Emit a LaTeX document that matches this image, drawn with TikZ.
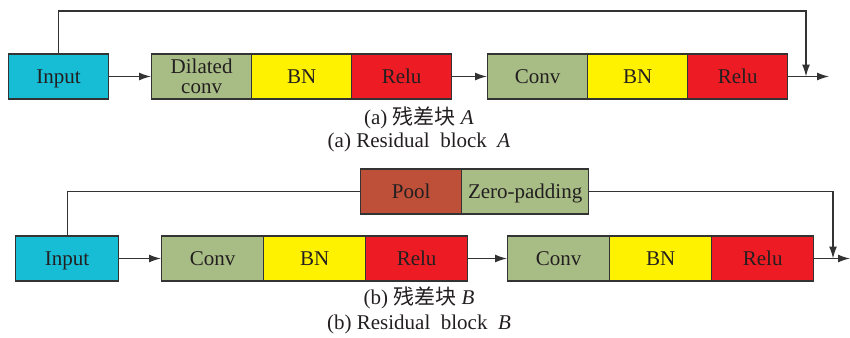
\documentclass[tikz,border=0pt]{standalone}
\usepackage{fontspec}
\setmainfont{Liberation Serif}
\newfontfamily\cjk{Noto Sans CJK SC}
\usetikzlibrary{arrows.meta}
\definecolor{inblue}{HTML}{16BDD5}
\definecolor{convgreen}{HTML}{A8BD85}
\definecolor{bnyellow}{HTML}{FFF200}
\definecolor{relured}{HTML}{ED1C24}
\definecolor{poolbrown}{HTML}{BE5039}
\definecolor{edge}{HTML}{333333}
\definecolor{ink}{HTML}{231F20}
\tikzset{
  blkbase/.style={draw=edge, line width=1.3pt, minimum height=45pt, inner sep=0pt,
    anchor=west, text=ink, font=\fontsize{21}{20}\selectfont, align=center},
  blk/.style={blkbase, text height=14.5pt, text depth=0pt},
  conn/.style={draw=edge, line width=1.3pt},
  arr/.style={conn, -{Latex[length=12pt,width=8pt]}},
  captext/.style={text=ink, font=\fontsize{21}{24}\selectfont}
}
\begin{document}
\begin{tikzpicture}[x=1pt,y=-1pt]
\useasboundingbox (0,0) rectangle (850,337);
% ---- residual block A ----
\node[blk, fill=inblue, minimum width=100pt] (ain) at (8,76.5) {Input};
\node[blkbase, fill=convgreen, minimum width=100pt] (adc) at (151,76.5) {Dilated\\conv};
\node[blk, fill=bnyellow, minimum width=100pt] (abn1) at (251,76.5) {BN};
\node[blk, fill=relured, minimum width=100pt] (arl1) at (351,76.5) {Relu};
\node[blk, fill=convgreen, minimum width=100pt] (acv) at (487,76.5) {Conv};
\node[blk, fill=bnyellow, minimum width=100pt] (abn2) at (587,76.5) {BN};
\node[blk, fill=relured, minimum width=100pt] (arl2) at (687,76.5) {Relu};
\coordinate (aout) at (829,76.5);
\coordinate (ajoin) at (806,76.5);
\coordinate (atop) at (806,11);
\draw[arr] (ain) -- (adc);
\draw[arr] (arl1) -- (acv);
\draw[arr] (arl2) -- (aout);
\draw[arr] (ain.north) |- (atop) -- (ajoin);
\node[captext] (capa1) at (419,118) {(a) {\cjk 残差块}\ \textit{A}};
\node[captext] (capa2) at (419,142) {(a) Residual\ \ block\ \ \textit{A}};
% ---- residual block B ----
\node[blk, fill=inblue, minimum width=103pt] (bin) at (15,258.5) {Input};
\node[blk, fill=convgreen, minimum width=102pt] (bcv1) at (161,258.5) {Conv};
\node[blk, fill=bnyellow, minimum width=102pt] (bbn1) at (263,258.5) {BN};
\node[blk, fill=relured, minimum width=102pt] (brl1) at (365,258.5) {Relu};
\node[blk, fill=convgreen, minimum width=102pt] (bcv2) at (507,258.5) {Conv};
\node[blk, fill=bnyellow, minimum width=102pt] (bbn2) at (609,258.5) {BN};
\node[blk, fill=relured, minimum width=102pt] (brl2) at (711,258.5) {Relu};
\node[blk, fill=poolbrown, minimum width=101pt] (bpool) at (360,191.5) {Pool};
\node[blk, fill=convgreen, minimum width=127pt] (bzp) at (461,191.5) {Zero-padding};
\coordinate (bout) at (850,258.5);
\coordinate (bjoin) at (833,258.5);
\coordinate (bcorner) at (833,191.5);
\draw[arr] (bin) -- (bcv1);
\draw[arr] (brl1) -- (bcv2);
\draw[arr] (brl2) -- (bout);
\draw[conn] (bin.north) |- (bpool.west);
\draw[arr] (bzp.east) -- (bcorner) -- (bjoin);
\node[captext] (capb1) at (419,298) {(b) {\cjk 残差块}\ \textit{B}};
\node[captext] (capb2) at (419,324) {(b) Residual\ \ block\ \ \textit{B}};
\end{tikzpicture}
\end{document}
